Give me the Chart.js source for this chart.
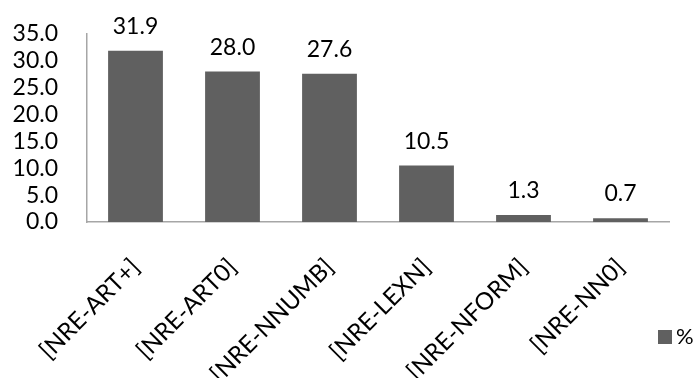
<!DOCTYPE html>
<html>
<head>
<meta charset="utf-8">
<script src="https://cdn.jsdelivr.net/npm/chart.js@4/dist/chart.umd.min.js"></script>
<style>
  html, body { margin: 0; padding: 0; background: #fff; }
  #wrap { width: 699px; height: 378px; }
</style>
</head>
<body>
<div id="wrap"><canvas id="c" width="699" height="378"></canvas></div>
<script>
const categories = ['[NRE-ART+]', '[NRE-ART0]', '[NRE-NNUMB]', '[NRE-LEXN]', '[NRE-NFORM]', '[NRE-NN0]'];
const percentValues = [31.9, 28.0, 27.6, 10.5, 1.3, 0.7];
const seriesName = '%';
const yTicks = [0, 5, 10, 15, 20, 25, 30, 35];

const FONT = 'Lato, "Open Sans", sans-serif';
const BAR = '#606060';
const AXIS = '#a6a6a6';

// Value labels printed above each bar
const valueLabels = {
  id: 'valueLabels',
  afterDatasetsDraw(chart) {
    const ctx = chart.ctx;
    const meta = chart.getDatasetMeta(0);
    ctx.save();
    ctx.font = '23px ' + FONT;
    ctx.fillStyle = '#000';
    ctx.textAlign = 'center';
    ctx.textBaseline = 'alphabetic';
    meta.data.forEach((bar, i) => {
      ctx.fillText(chart.data.datasets[0].data[i].toFixed(1), bar.x, bar.y - 17);
    });
    ctx.restore();
  }
};

// Small legend sitting at the lower right, next to the last category label
const cornerLegend = {
  id: 'cornerLegend',
  afterDraw(chart) {
    const ctx = chart.ctx;
    const ds = chart.data.datasets[0];
    const x = chart.chartArea.right - 11;
    const y = 330;
    ctx.save();
    ctx.fillStyle = ds.backgroundColor;
    ctx.fillRect(x, y, 14, 14);
    ctx.font = '22px ' + FONT;
    ctx.fillStyle = '#000';
    ctx.textAlign = 'left';
    ctx.textBaseline = 'middle';
    ctx.fillText(ds.label, x + 18, y + 7);
    ctx.restore();
  }
};

new Chart(document.getElementById('c'), {
  type: 'bar',
  data: {
    labels: categories,
    datasets: [{
      label: seriesName,
      data: percentValues,
      backgroundColor: BAR,
      borderWidth: 0,
      categoryPercentage: 1.0,
      barPercentage: 0.565
    }]
  },
  options: {
    responsive: false,
    animation: false,
    layout: { padding: { top: 34, right: 30, left: 0, bottom: 0 } },
    plugins: {
      legend: { display: false },
      tooltip: { enabled: false }
    },
    scales: {
      x: {
        grid: { display: false, drawTicks: false },
        border: { display: true, color: AXIS, width: 1.5 },
        ticks: {
          color: '#000',
          font: { family: FONT, size: 24 },
          maxRotation: 45,
          minRotation: 45,
          autoSkip: false,
          padding: 31
        },
        afterFit(scale) { scale.height = 156; }
      },
      y: {
        min: 0,
        max: 35,
        grid: { display: false, drawTicks: false },
        border: { display: true, color: AXIS, width: 1.5 },
        afterBuildTicks(scale) { scale.ticks = yTicks.map(v => ({ value: v })); },
        ticks: {
          color: '#000',
          font: { family: FONT, size: 23 },
          padding: 29,
          autoSkip: false,
          callback: v => Number(v).toFixed(1)
        },
        afterFit(scale) {
          scale.width = 87;
          scale.paddingTop = 0;
          scale.paddingBottom = 0;
        }
      }
    }
  },
  plugins: [valueLabels, cornerLegend]
});
</script>
</body>
</html>
